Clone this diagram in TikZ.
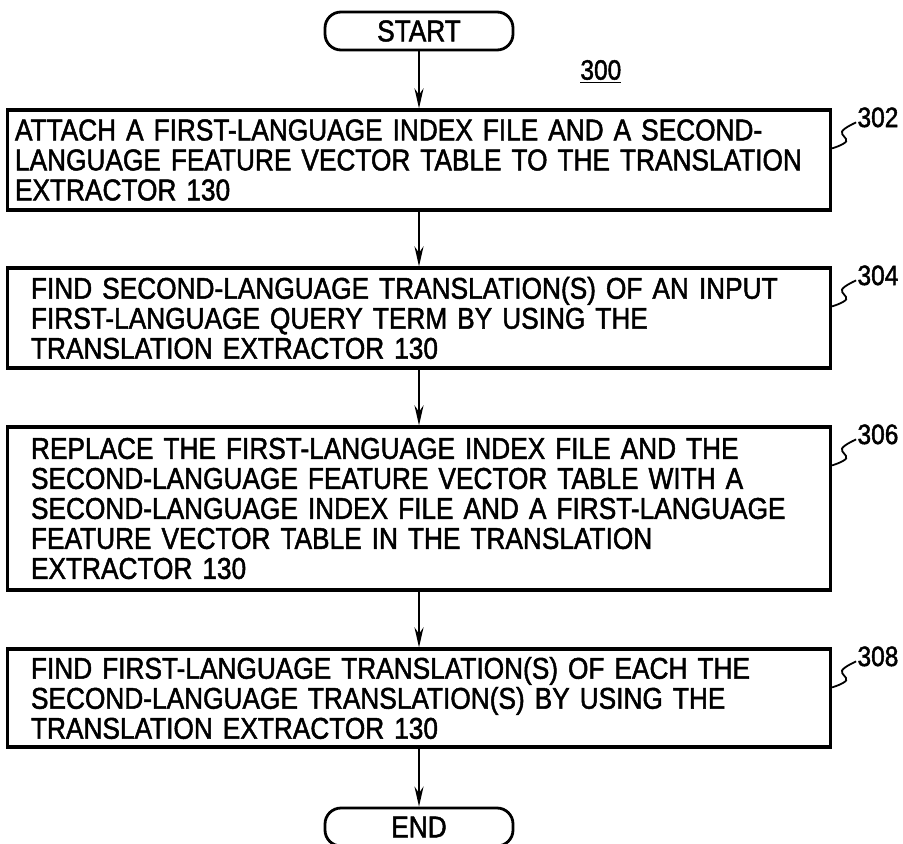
\documentclass[tikz,border=0pt]{standalone}
\usepackage{fontspec}
\setmainfont{Liberation Sans}[FakeStretch=0.875, FakeBold=1.6]
\usetikzlibrary{arrows.meta}

\hyphenpenalty=10000
\exhyphenpenalty=10000

\newcommand\steplabel[2]{%
	\node[numlabel] (n#2) at ([shift={(25,-9)}]#1.north east) {#2};
	\draw[leader] plot[smooth, tension=0.7] coordinates {([shift={(0,-40)}]#1.north east) ([shift={(14,-33)}]#1.north east) ([shift={(10,-23)}]#1.north east) ([shift={(-1,-5)}]n#2.west)};
}

\begin{document}
\begin{tikzpicture}[
			x = 0.5pt, y = 0.5pt,
			every node/.style = {font = \fontsize{15}{15}\selectfont},
			stepbox/.style = {draw, rectangle, line width = 1.6pt, align = left,
				text width = 388pt, inner xsep = 11.75pt, inner ysep = 0pt,
				minimum height = 50pt},
			termbox/.style = {draw, rectangle, line width = 1.4pt, rounded corners = 8pt,
				minimum width = 94pt, minimum height = 19pt, inner sep = 0pt},
			numlabel/.style = {inner sep = 0pt, anchor = west,
				font = \fontsize{14}{14}\selectfont},
			flow/.style = {line width = 1.1pt, -{Stealth[length = 10pt, width = 4.5pt]}},
			leader/.style = {line width = 0.9pt},
			]

			\useasboundingbox (0,0) rectangle (903,-844);

			\node[termbox] (start) at (419,-31) {START};
			\node[numlabel] (n300) at (580,-72) {\underline{300}};

			\node[stepbox, text width = 404pt, inner xsep = 3.75pt] (s302) at (419,-160)
				{ATTACH A FIRST-LANGUAGE INDEX FILE AND A SECOND-\\
				LANGUAGE FEATURE VECTOR TABLE TO THE TRANSLATION\\
				EXTRACTOR 130};
			\node[stepbox] (s304) at (419,-318)
				{FIND SECOND-LANGUAGE TRANSLATION(S) OF AN INPUT\\
				FIRST-LANGUAGE QUERY TERM BY USING THE\\
				TRANSLATION EXTRACTOR 130};
			\node[stepbox, minimum height = 81.5pt] (s306) at (419,-508.5)
				{REPLACE THE FIRST-LANGUAGE INDEX FILE AND THE\\
				SECOND-LANGUAGE FEATURE VECTOR TABLE WITH A\\
				SECOND-LANGUAGE INDEX FILE AND A FIRST-LANGUAGE\\
				FEATURE VECTOR TABLE IN THE TRANSLATION\\
				EXTRACTOR 130};
			\node[stepbox, minimum height = 49pt] (s308) at (419,-698)
				{FIND FIRST-LANGUAGE TRANSLATION(S) OF EACH THE\\
				SECOND-LANGUAGE TRANSLATION(S) BY USING THE\\
				TRANSLATION EXTRACTOR 130};

			\node[termbox] (end) at (419,-827) {END};

			\draw[flow] (start) -- (s302);
			\draw[flow] (s302) -- (s304);
			\draw[flow] (s304) -- (s306);
			\draw[flow] (s306) -- (s308);
			\draw[flow] (s308) -- (end);

			\steplabel{s302}{302}
			\steplabel{s304}{304}
			\steplabel{s306}{306}
			\steplabel{s308}{308}

		\end{tikzpicture}
\end{document}
